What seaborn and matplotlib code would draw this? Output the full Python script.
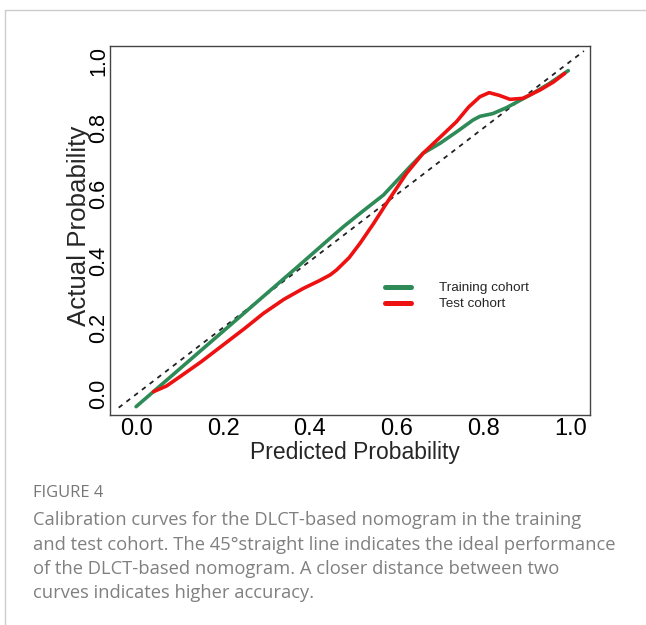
import matplotlib
matplotlib.use("Agg")
import matplotlib.pyplot as plt
from matplotlib.lines import Line2D
import seaborn as sns
import pandas as pd

# ---- data ----
train_x = [0.000, 0.100, 0.216, 0.300, 0.377, 0.446, 0.477, 0.520, 0.569, 0.630,
           0.660, 0.699, 0.740, 0.775, 0.791, 0.820, 0.852, 0.906, 0.950, 0.994]
train_y = [-0.037, 0.076, 0.207, 0.302, 0.389, 0.468, 0.503, 0.548, 0.598, 0.683,
           0.723, 0.753, 0.790, 0.823, 0.834, 0.842, 0.860, 0.898, 0.932, 0.971]

test_x = [0.040, 0.070, 0.101, 0.150, 0.200, 0.250, 0.293, 0.340, 0.385, 0.420,
          0.446, 0.461, 0.490, 0.515, 0.545, 0.576, 0.622, 0.660, 0.699, 0.737,
          0.765, 0.791, 0.812, 0.835, 0.860, 0.890, 0.929, 0.960, 0.986]
test_y = [0.008, 0.025, 0.053, 0.098, 0.148, 0.198, 0.243, 0.285, 0.318, 0.340,
          0.358, 0.373, 0.410, 0.453, 0.510, 0.573, 0.663, 0.723, 0.771, 0.818,
          0.862, 0.893, 0.905, 0.897, 0.885, 0.888, 0.913, 0.937, 0.963]

diag = [-0.04, 1.03]
ticks = [0.0, 0.2, 0.4, 0.6, 0.8, 1.0]
tick_labels = ["0.0", "0.2", "0.4", "0.6", "0.8", "1.0"]
series_names = ["Training cohort", "Test cohort"]
series_colors = ["#2e8b57", "#ee1111"]

caption_title = "FIGURE 4"
caption_lines = [
    "Calibration curves for the DLCT-based nomogram in the training",
    "and test cohort. The 45\u00b0straight line indicates the ideal performance",
    "of the DLCT-based nomogram. A closer distance between two",
    "curves indicates higher accuracy.",
]

# ---- figure ----
sns.set_style("white")
plt.rcParams["font.family"] = ["Liberation Sans", "DejaVu Sans"]

W, H = 646, 625
fig = plt.figure(figsize=(W / 100, H / 100), dpi=100)
fig.patch.set_facecolor("white")

L, R, T, B = 110, 590, 46, 415
ax = fig.add_axes([L / W, 1 - B / H, (R - L) / W, (B - T) / H])

df_train = pd.DataFrame({"x": train_x, "y": train_y})
df_test = pd.DataFrame({"x": test_x, "y": test_y})

ax.plot(diag, diag, color="#222222", lw=1.3, dashes=(2.6, 2.8), zorder=1)
sns.lineplot(data=df_train, x="x", y="y", sort=False, ax=ax, color=series_colors[0],
             lw=2.6, zorder=2)
sns.lineplot(data=df_test, x="x", y="y", sort=False, ax=ax, color=series_colors[1],
             lw=2.6, zorder=3)

ax.set_xlim(-0.06, 1.044)
ax.set_ylim(-0.062, 1.045)
ax.set_xticks(ticks)
ax.set_xticklabels(tick_labels)
ax.set_yticks(ticks)
ax.set_yticklabels(tick_labels)

for s in ax.spines.values():
    s.set_color("#444444")
    s.set_linewidth(1.0)
    s.set_visible(True)

ax.tick_params(axis="both", direction="in", length=5, width=1, color="#222222",
               labelcolor="black")
ax.tick_params(axis="x", pad=2, labelsize=17)
ax.tick_params(axis="y", pad=0.8, labelrotation=90, labelsize=15.5)
for lab in ax.get_yticklabels():
    lab.set_va("center")

ax.set_xlabel("Predicted Probability", fontsize=16.5)
ax.set_ylabel("Actual Probability", fontsize=18.6)
ax.xaxis.set_label_coords((355 - L) / (R - L), (B - 453) / (B - T))
ax.xaxis.label.set_va("center")
ax.yaxis.set_label_coords((79 - L) / (R - L), (B - 226) / (B - T))
ax.yaxis.label.set_va("center")

handles = [Line2D([0], [0], color=c, lw=3.6, solid_capstyle="round") for c in series_colors]
ax.legend(handles, series_names, loc="upper left",
          bbox_to_anchor=((385 - L) / (R - L), (B - 282) / (B - T)),
          frameon=False, fontsize=9.7, handlelength=1.93, handletextpad=2.1,
          labelspacing=0.27, borderpad=0, borderaxespad=0)

# page frame
fig.add_artist(Line2D([5 / W, 5 / W], [0, 1 - 10 / H], transform=fig.transFigure,
                      color="#cccccc", lw=1))
fig.add_artist(Line2D([5 / W, 1], [1 - 10 / H, 1 - 10 / H], transform=fig.transFigure,
                      color="#cccccc", lw=1))

# caption
fig.text(33 / W, 1 - 493 / H, caption_title, fontsize=11.9, color="#777777",
         family=["Open Sans", "DejaVu Sans"], va="center", ha="left")
ys = [520, 545, 569, 593]
for yy, line in zip(ys, caption_lines):
    fig.text(33 / W, 1 - yy / H, line, fontsize=13.2, color="#808080",
             family=["Open Sans", "DejaVu Sans"], va="center", ha="left")

fig.savefig("out.png", dpi=100)
